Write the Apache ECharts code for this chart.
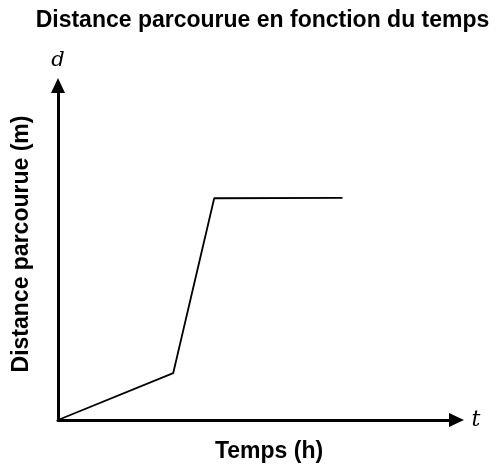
<!DOCTYPE html>
<html><head><meta charset="utf-8">
<script src="https://cdn.jsdelivr.net/npm/echarts@6/dist/echarts.min.js"></script>
<style>html,body{margin:0;padding:0;background:#fff}#c{width:503px;height:467px}</style>
</head><body><div id="c"></div>
<script>
const timeValues = [0, 2.89, 3.92, 7.14];
const distanceValues = [0, 1.40, 6.63, 6.64];
const titleText = 'Distance parcourue en fonction du temps';
const xName = 'Temps (h)';
const yName = 'Distance parcourue (m)';
const xSym = 't';
const ySym = 'd';

const chart = echarts.init(document.getElementById('c'));
const font = '"Liberation Sans", Arial, sans-serif';
const serif = '"DejaVu Serif", "Liberation Serif", serif';
chart.setOption({
  animation: false,
  backgroundColor: '#fff',
  grid: {left: 58, right: 46.5, top: 85.5, bottom: 47},
  xAxis: {type: 'value', min: 0, max: 10,
    axisLine: {show: true, symbol: ['none', 'triangle'], symbolSize: [14, 15],
      lineStyle: {color: '#000', width: 3}},
    axisTick: {show: false}, axisLabel: {show: false}, splitLine: {show: false},
    name: xSym, nameLocation: 'end', nameGap: 15,
    nameTextStyle: {fontFamily: serif, fontStyle: 'italic', fontSize: 22, color: '#000'}},
  yAxis: {type: 'value', min: 0, max: 10,
    axisLine: {show: true, symbol: ['none', 'triangle'], symbolSize: [14, 15],
      lineStyle: {color: '#000', width: 3}},
    axisTick: {show: false}, axisLabel: {show: false}, splitLine: {show: false},
    name: ySym, nameLocation: 'end', nameGap: 14,
    nameTextStyle: {fontFamily: serif, fontStyle: 'italic', fontSize: 21, color: '#000'}},
  graphic: [
    {type: 'text', x: 262.5, y: 21, style: {text: titleText, fontFamily: font, fontWeight: 'bold', fontSize: 23,
      fill: '#000', align: 'center', verticalAlign: 'middle'}},
    {type: 'text', x: 269, y: 452, style: {text: xName, fontFamily: font, fontWeight: 'bold', fontSize: 23,
      fill: '#000', align: 'center', verticalAlign: 'middle'}},
    {type: 'text', x: 22, y: 244, rotation: Math.PI / 2, style: {text: yName, fontFamily: font, fontWeight: 'bold', fontSize: 23,
      fill: '#000', align: 'center', verticalAlign: 'middle'}}
  ],
  series: [{type: 'line', data: timeValues.map((t, i) => [t, distanceValues[i]]),
    symbol: 'none', lineStyle: {color: '#000', width: 1.8}}]
});
</script></body></html>
